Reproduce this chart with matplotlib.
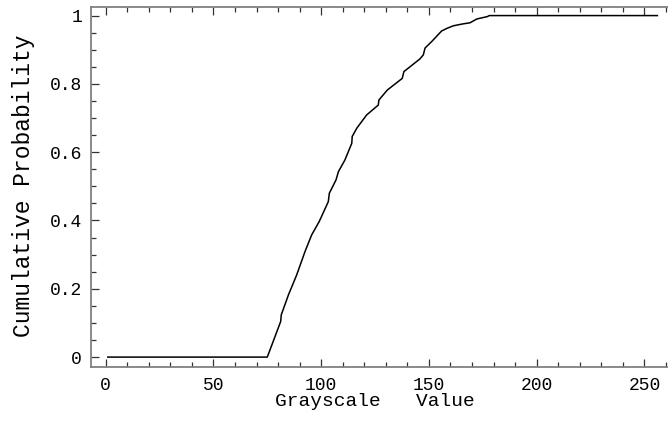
import matplotlib
matplotlib.use("Agg")
import matplotlib.pyplot as plt
from matplotlib.ticker import MultipleLocator

gray_values = [1, 75, 81.2, 81.5, 84.8, 88.6, 92.5, 95.6, 99.1, 103.3, 103.8,
               106.9, 108, 111, 114.2, 114.4, 116.5, 121.1, 126.5, 126.8, 130.7,
               137.6, 138.4, 145.8, 147.4, 148.2, 151.3, 155.9, 158.5, 161.3,
               165.2, 169.1, 172.2, 177.1, 178, 256]
cum_prob = [0, 0, 0.104, 0.124, 0.182, 0.240, 0.309, 0.358, 0.397, 0.455, 0.480,
            0.519, 0.543, 0.577, 0.626, 0.646, 0.670, 0.709, 0.738, 0.753, 0.782,
            0.816, 0.836, 0.873, 0.885, 0.905, 0.924, 0.955, 0.963, 0.970,
            0.975, 0.979, 0.990, 0.997, 1.0, 1.0]

x_ticks = [0, 50, 100, 150, 200, 250]
y_ticks = [0, 0.2, 0.4, 0.6, 0.8, 1]
y_tick_labels = ["0", "0.2", "0.4", "0.6", "0.8", "1"]

plt.rcParams["font.family"] = ["Liberation Mono", "DejaVu Sans Mono"]

W, H = 668, 423
fig = plt.figure(figsize=(W / 100, H / 100), dpi=100)
# frame in pixels: left 91, right ~674 (off image), bottom 367, top 6.7
left, right, top, bottom = 91, 674, 6.7, 367
ax = fig.add_axes([left / W, (H - bottom) / H, (right - left) / W, (bottom - top) / H])

ax.plot(gray_values, cum_prob, color="black", lw=1.1)

ax.set_xlim(-6.8, (right - 105.7) / 2.155)
ax.set_ylim(-0.029, 1.026)

ax.set_xticks(x_ticks)
ax.set_yticks(y_ticks)
ax.set_yticklabels(y_tick_labels)
ax.xaxis.set_minor_locator(MultipleLocator(10))
ax.yaxis.set_minor_locator(MultipleLocator(0.05))

for s in ax.spines.values():
    s.set_color("#808080")
    s.set_linewidth(1.3)

ax.tick_params(which="both", direction="in", top=True, right=False,
               color="#333333", width=0.9, labelsize=13)
ax.tick_params(which="major", length=6)
ax.tick_params(which="minor", length=3.5)
ax.tick_params(axis="y", pad=6.5)
ax.tick_params(axis="x", pad=7)

ax.set_xlabel("Grayscale   Value", fontsize=14)
ax.xaxis.label.set_va("center")
ax.xaxis.set_label_coords((374.5 - left) / (right - left), -34 / (bottom - top))
ax.set_ylabel("Cumulative Probability", fontsize=16.5)
ax.yaxis.label.set_va("center")
ax.yaxis.set_label_coords((23 - left) / (right - left), 0.502)

fig.savefig("out.png", dpi=100)
